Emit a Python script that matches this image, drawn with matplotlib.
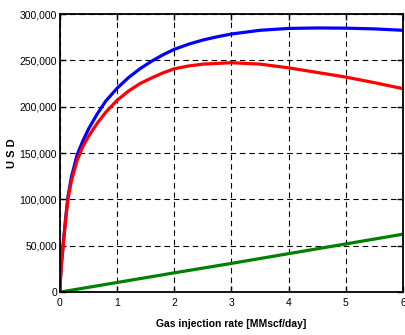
import matplotlib
matplotlib.use("Agg")
import matplotlib.pyplot as plt
from matplotlib.ticker import FuncFormatter

plt.rcParams['font.family'] = ['Liberation Sans', 'DejaVu Sans']

# values
x_blue = [0, 0.01, 0.03, 0.06, 0.1, 0.14, 0.2, 0.3, 0.4, 0.5, 0.65, 0.8, 1.0, 1.2, 1.4,
          1.6, 1.8, 2.0, 2.25, 2.5, 2.75, 3.0, 3.5, 4.0, 4.5, 5.0, 5.5, 6.0]
y_blue = [0, 15000, 34000, 54000, 80000, 103000, 124000, 148000, 163000, 176000, 192000,
          206000, 220000, 231500, 241000, 249000, 256000, 262000, 267500, 272000, 275500,
          278500, 282500, 284500, 285000, 284800, 284000, 282500]

x_red = [0, 0.01, 0.03, 0.06, 0.1, 0.14, 0.2, 0.3, 0.4, 0.5, 0.65, 0.8, 1.0, 1.2, 1.4,
         1.6, 1.8, 2.0, 2.25, 2.5, 3.0, 3.5, 4.0, 4.5, 5.0, 5.5, 6.0]
y_red = [0, 15000, 33000, 52000, 78000, 100000, 120000, 142000, 157000, 168000, 182000,
         194000, 207000, 217000, 225000, 231000, 236500, 241000, 244000, 246000, 247500,
         246000, 242000, 237000, 232000, 226000, 219500]

x_green = [0, 1, 2, 3, 4, 5, 6]
y_green = [0, 10400, 20800, 31000, 41500, 52000, 62500]

fig = plt.figure(figsize=(4.05, 3.35), dpi=100)
ax = fig.add_axes([0.148, 0.128, 0.847, 0.83])

ax.plot(x_blue, y_blue, color='#0000ff', lw=2.3)
ax.plot(x_red, y_red, color='#ff0000', lw=2.3)
ax.plot(x_green, y_green, color='#008000', lw=2.3)

ax.set_xlim(0, 6)
ax.set_ylim(0, 300000)
ax.set_xticks(range(7))
ax.set_yticks(range(0, 300001, 50000))
ax.yaxis.set_major_formatter(FuncFormatter(lambda v, p: f"{int(v):,}"))

ax.grid(True, color='black', linestyle=(0, (5, 3.5)), linewidth=0.8)
ax.tick_params(direction='in', top=True, right=True, length=4, width=1,
               labelsize=7.5)
ax.tick_params(axis='y', pad=2)
ax.tick_params(axis='x', pad=4)
for s in ax.spines.values():
    s.set_linewidth(1.3)

ax.set_xlabel('Gas injection rate [MMscf/day]', fontsize=7.5, fontweight='bold', labelpad=8)
ax.set_ylabel('U S D', fontsize=8, fontweight='bold')
ax.yaxis.set_label_coords(-0.125, 0.5)

fig.savefig('out.png', dpi=100)
